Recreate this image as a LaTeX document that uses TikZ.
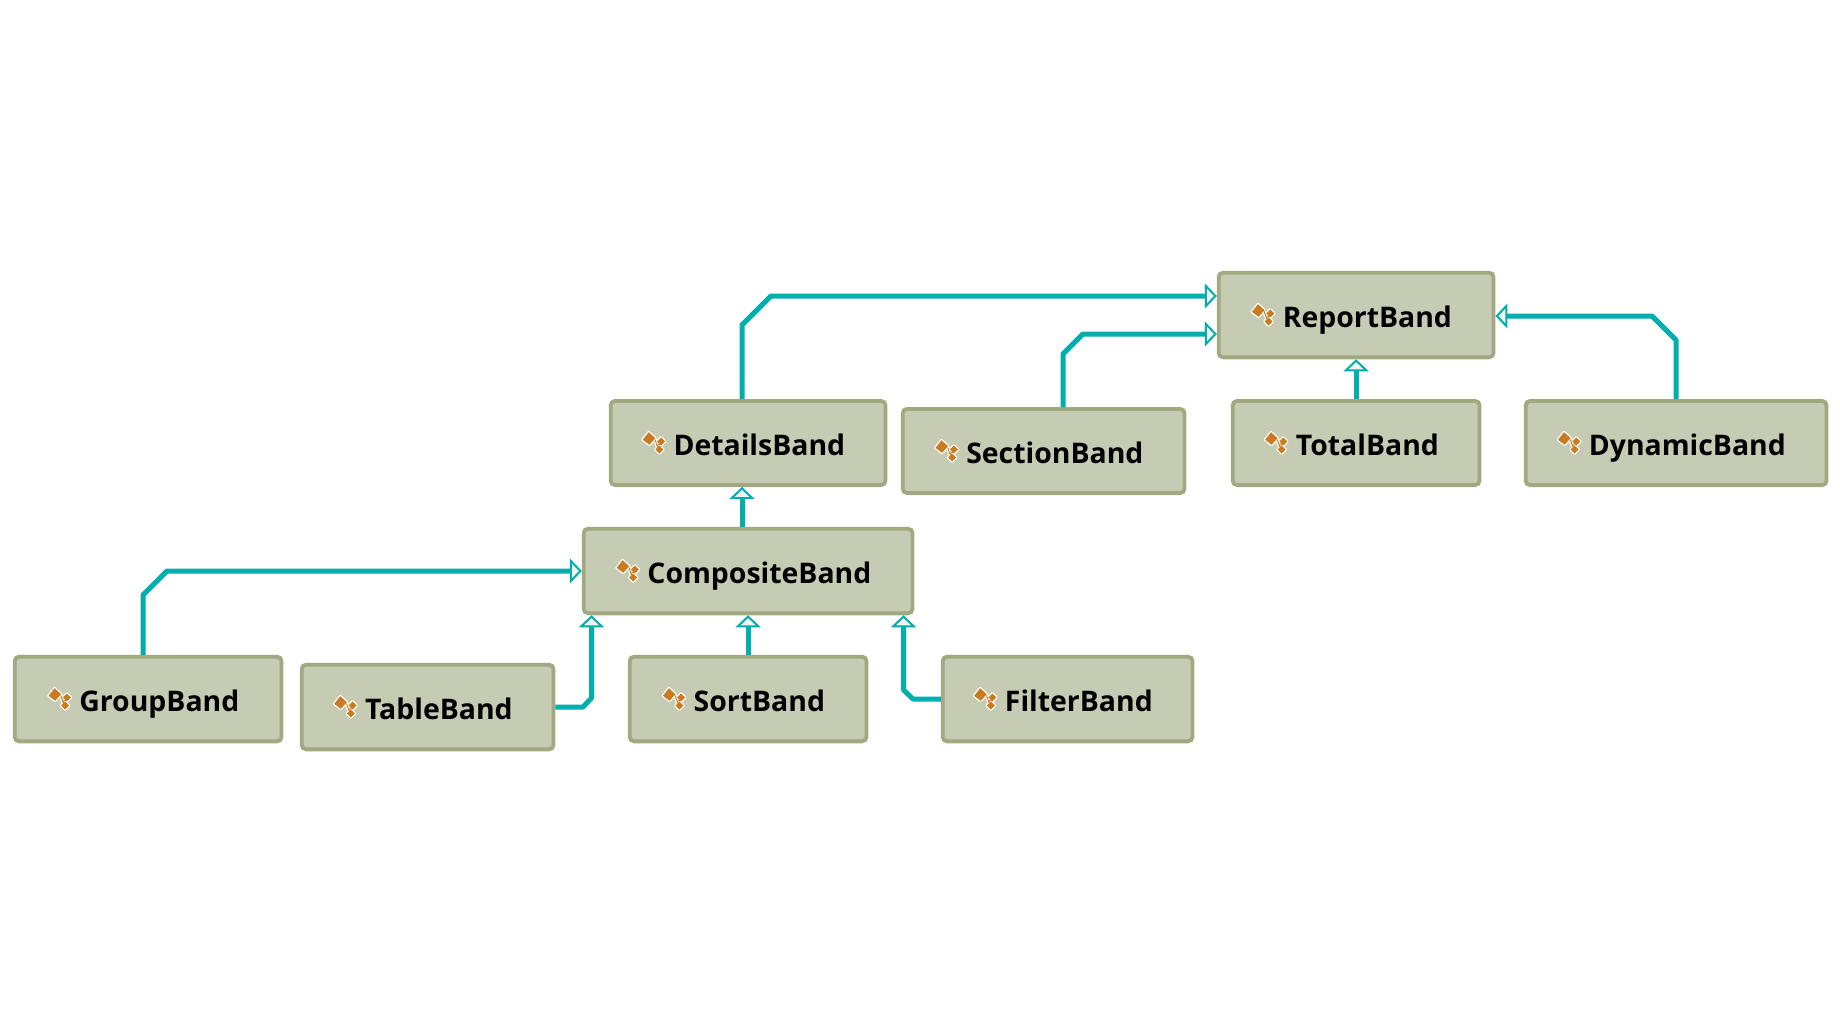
\documentclass[tikz,border=0pt]{standalone}
\usepackage{fontspec}
\setmainfont{Open Sans}
\usetikzlibrary{arrows.meta}

\definecolor{bandfill}{HTML}{C6CBB4}
\definecolor{bandline}{HTML}{A2A980}
\definecolor{linkteal}{HTML}{00AFAD}
\definecolor{headfill}{HTML}{F1F3EF}
\definecolor{iconorange}{HTML}{C97B21}

\tikzset{
  bandbox/.style={draw=bandline, fill=bandfill, line width=3.8pt, rounded corners=4.5pt,
    inner sep=0pt, text height=25pt, text depth=0pt,
    font=\fontsize{28.4pt}{30pt}\selectfont\bfseries, text=black},
  extendslink/.style={draw=linkteal, line width=5pt, line join=round,
    -{Triangle[length=12pt, width=25pt, fill=headfill, line width=2pt, color=linkteal, fill=headfill]}},
}

% class icon
\newsavebox{\bandicon}
\sbox{\bandicon}{\begin{tikzpicture}[x=1pt, y=-1pt, line join=round]
  \useasboundingbox (0,0) rectangle (23,24);
  % halo
  \draw[white, fill=white, line width=2.6pt] (6.7,1.7) -- (13.3,7.7) -- (7.3,14.3) -- (0.7,9.3) -- cycle;
  \draw[white, fill=white, line width=2.6pt] (19,7) -- (23,11) -- (19,15) -- (15,11) -- cycle;
  \draw[white, fill=white, line width=2.6pt] (17.3,15) -- (21.3,19) -- (17.3,23) -- (13.3,19) -- cycle;
  \draw[white, line width=3.4pt] (13,9) -- (15,15) -- (19,15);
  \draw[white, line width=3.4pt] (15,15) -- (16.5,18);
  % tree
  \draw[iconorange, line width=1pt] (13,9) -- (15,15) -- (19,13);
  \draw[iconorange, line width=1pt] (15,15) -- (16.5,18);
  \fill[iconorange] (6.7,1.7) -- (13.3,7.7) -- (7.3,14.3) -- (0.7,9.3) -- cycle;
  \fill[iconorange] (19,7) -- (23,11) -- (19,15) -- (15,11) -- cycle;
  \fill[iconorange] (17.3,15) -- (21.3,19) -- (17.3,23) -- (13.3,19) -- cycle;
\end{tikzpicture}}

\newcommand{\bandtext}[1]{\raisebox{1pt}{\usebox{\bandicon}}\hspace{8.5pt}#1\kern9pt\mbox{}}

\begin{document}
\begin{tikzpicture}[x=1pt, y=-1pt]
\useasboundingbox (0,0) rectangle (1840,1022);

% Top row
\node[bandbox, minimum width=274.9pt, minimum height=84.7pt] (report) at (1356.1,315) {\bandtext{ReportBand}};

% Middle row
\node[bandbox, minimum width=274.9pt, minimum height=84.2pt] (details) at (748.1,443) {\bandtext{DetailsBand}};
\node[bandbox, minimum width=281.9pt, minimum height=84.2pt] (section) at (1043.6,451) {\bandtext{SectionBand}};
\node[bandbox, minimum width=246.9pt, minimum height=84.2pt] (total) at (1356.1,443) {\bandtext{TotalBand}};
\node[bandbox, minimum width=300.9pt, minimum height=84.2pt] (dynamic) at (1676.1,443) {\bandtext{DynamicBand}};

% Composite
\node[bandbox, minimum width=328.9pt, minimum height=84.7pt] (composite) at (748.1,571) {\bandtext{CompositeBand}};

% Bottom row
\node[bandbox, minimum width=266.9pt, minimum height=84.7pt] (group) at (148.1,699) {\bandtext{GroupBand}};
\node[bandbox, minimum width=251.9pt, minimum height=84.7pt] (table) at (427.6,707) {\bandtext{TableBand}};
\node[bandbox, minimum width=236.9pt, minimum height=84.7pt] (sort) at (748.1,699) {\bandtext{SortBand}};
\node[bandbox, minimum width=249.9pt, minimum height=84.7pt] (filter) at (1067.6,699) {\bandtext{FilterBand}};

% Bend points
\coordinate (detailsUp) at (742,325);
\coordinate (detailsTurn) at (771,296);
\coordinate (sectionUp) at (1063,354);
\coordinate (sectionTurn) at (1083,334);
\coordinate (dynamicUp) at (1676,340);
\coordinate (dynamicTurn) at (1652,316);
\coordinate (groupUp) at (143,595);
\coordinate (groupTurn) at (167,571);
\coordinate (tableRight) at (583,707);
\coordinate (tableTurn) at (591.5,698);
\coordinate (filterLeft) at (913,699);
\coordinate (filterTurn) at (903.5,690);

% Connections
\draw[extendslink] (details.north -| detailsUp) -- (detailsUp) -- (detailsTurn) -- (detailsTurn -| report.west);
\draw[extendslink] (section.north -| sectionUp) -- (sectionUp) -- (sectionTurn) -- (sectionTurn -| report.west);
\draw[extendslink] (total.north) -- (report.south);
\draw[extendslink] (dynamic.north -| dynamicUp) -- (dynamicUp) -- (dynamicTurn) -- (dynamicTurn -| report.east);
\draw[extendslink] (composite.north -| detailsUp) -- (details.south -| detailsUp);
\draw[extendslink] (group.north -| groupUp) -- (groupUp) -- (groupTurn) -- (composite.west);
\draw[extendslink] (table.east) -- (tableRight) -- (tableTurn) -- (tableTurn |- composite.south);
\draw[extendslink] (sort.north) -- (composite.south);
\draw[extendslink] (filter.west) -- (filterLeft) -- (filterTurn) -- (filterTurn |- composite.south);

\end{tikzpicture}
\end{document}
